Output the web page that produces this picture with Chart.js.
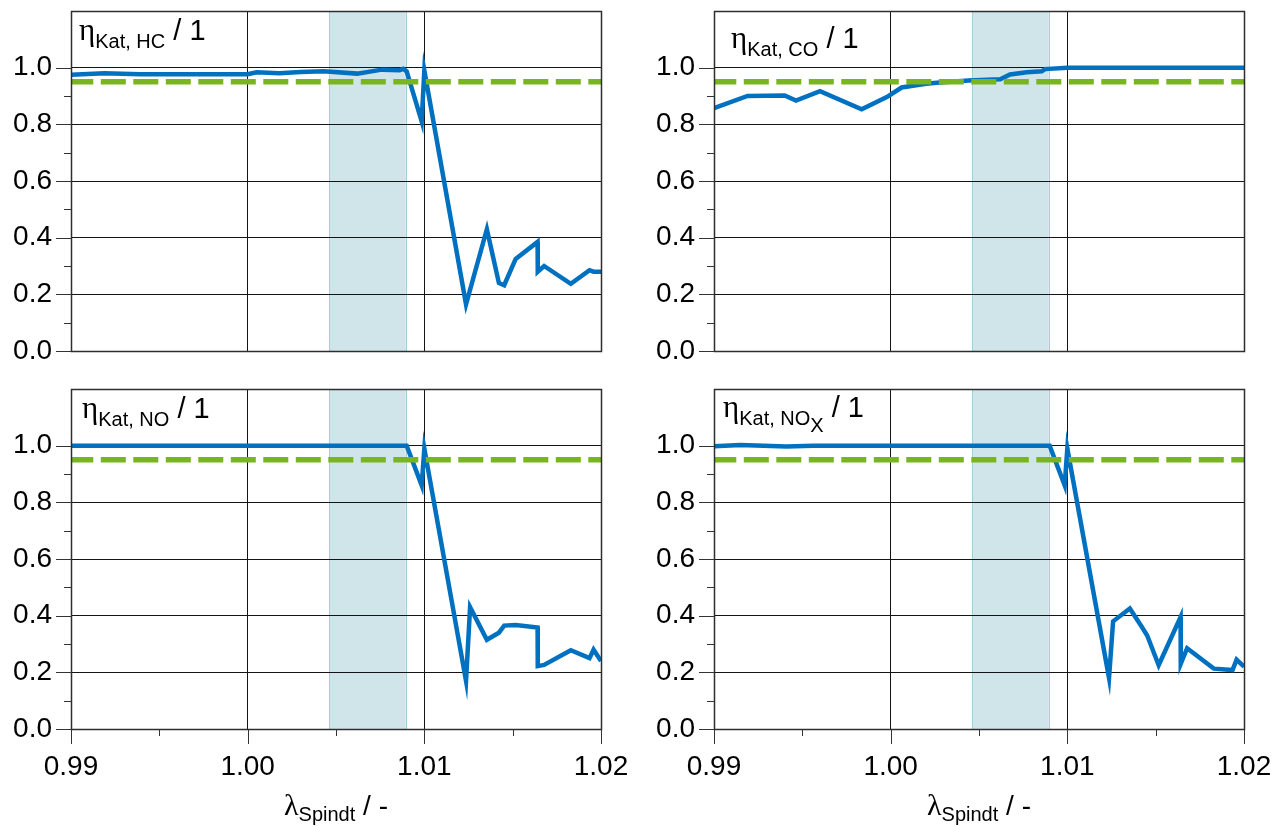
<!DOCTYPE html>
<html>
<head>
<meta charset="utf-8">
<title>Konvertierungsrate über λ</title>
<script src="https://cdn.jsdelivr.net/npm/chart.js@4.4.1/dist/chart.umd.min.js"></script>
<style>
  html, body { margin: 0; padding: 0; background: #fff; }
  #wrap { position: relative; width: 1282px; height: 826px; overflow: hidden; }
  .panel { position: absolute; }
  .panel canvas { display: block; }
</style>
</head>
<body>
<div id="wrap"></div>
<script>
// ---- measured conversion efficiencies over Spindt lambda ----
const lambdaHC = [0.99, 0.9919, 0.9939, 1.0000, 1.0005, 1.0018, 1.0030, 1.0043, 1.0062, 1.0076, 1.0086, 1.0088, 1.0090,
                  1.00985, 1.0100, 1.01236, 1.01354, 1.01422, 1.01452, 1.01517, 1.01641, 1.01642, 1.01678, 1.01829, 1.01935, 1.01958, 1.0200];
const etaHC    = [0.975, 0.980, 0.977, 0.977, 0.984, 0.980, 0.985, 0.987, 0.979, 0.993, 0.991, 0.996, 0.987,
                  0.81, 0.99, 0.165, 0.43, 0.24, 0.232, 0.325, 0.385, 0.28, 0.30, 0.237, 0.285, 0.28, 0.28];

const lambdaCO = [0.99, 0.9919, 0.9940, 0.99464, 0.9960, 0.99836, 0.99978, 1.00062, 1.0020, 1.0026, 1.0044, 1.0062,
                  1.00676, 1.0077, 1.00855, 1.00874, 1.0100, 1.0200];
const etaCO    = [0.857, 0.900, 0.902, 0.884, 0.917, 0.853, 0.896, 0.930, 0.943, 0.947, 0.955, 0.959,
                  0.976, 0.984, 0.987, 0.995, 1.0, 1.0];

const lambdaNO = [0.99, 1.0090, 1.00985, 1.0100, 1.01236, 1.01259, 1.01354, 1.01422, 1.01452, 1.01517, 1.01641, 1.01642,
                  1.01678, 1.01829, 1.01935, 1.01958, 1.0200];
const etaNO    = [1.0, 1.0, 0.86, 0.99, 0.17, 0.43, 0.315, 0.34, 0.365, 0.367, 0.358, 0.222,
                  0.226, 0.278, 0.25, 0.28, 0.24];

const lambdaNOx = [0.99, 0.9915, 0.9941, 0.9956, 1.0090, 1.00985, 1.0100, 1.01236, 1.01259, 1.01354, 1.01422, 1.01452,
                   1.01517, 1.01641, 1.01642, 1.01678, 1.01829, 1.01935, 1.01958, 1.0200];
const etaNOx    = [0.998, 1.002, 0.997, 1.0, 1.0, 0.86, 0.99, 0.18, 0.38, 0.425, 0.36, 0.33,
                   0.225, 0.395, 0.23, 0.285, 0.213, 0.208, 0.245, 0.22];

// target efficiency and lambda window
const limitEta = 0.95;
const bandLambda = [1.00462, 1.00895];

// axis ticks
const xTicks = [0.99, 1.00, 1.01, 1.02];
const xMinorTicks = [0.995, 1.005, 1.015];
const yTicks = [0.0, 0.2, 0.4, 0.6, 0.8, 1.0];
const yMinorTicks = [0.1, 0.3, 0.5, 0.7, 0.9];

// ---- styling ----
const SANS = '"Liberation Sans", Arial, Helvetica, sans-serif';
const SERIF = '"Liberation Serif", "Times New Roman", serif';
const BLUE = '#0071c1';
const GREEN = '#79b51f';
const GRID = '#141414';
const FRAME = '#2e2e2e';

function drawRich(ctx, segs, x, y, align) {
  let total = 0;
  segs.forEach(s => { ctx.font = s.font; s.w = ctx.measureText(s.text).width; total += s.w; });
  let cx = align === 'center' ? x - total / 2 : x;
  ctx.textAlign = 'left';
  ctx.textBaseline = 'alphabetic';
  segs.forEach(s => { ctx.font = s.font; ctx.fillText(s.text, cx, y + (s.dy || 0)); cx += s.w; });
}

const decor = {
  id: 'decor',
  beforeDraw(chart) {
    const { ctx, chartArea: a, scales: { x } } = chart;
    const x0 = x.getPixelForValue(bandLambda[0]);
    const x1 = x.getPixelForValue(bandLambda[1]);
    ctx.save();
    ctx.fillStyle = 'rgb(207,229,234)';
    ctx.fillRect(x0, a.top, x1 - x0, a.bottom - a.top);
    ctx.strokeStyle = 'rgb(166,206,214)';
    ctx.lineWidth = 1;
    ctx.beginPath();
    ctx.moveTo(Math.round(x0) + 0.5, a.top); ctx.lineTo(Math.round(x0) + 0.5, a.bottom);
    ctx.moveTo(Math.round(x1) + 0.5, a.top); ctx.lineTo(Math.round(x1) + 0.5, a.bottom);
    ctx.stroke();
    ctx.restore();
  },
  beforeDatasetsDraw(chart) {
    // sharp spikes like the measured trace
    chart.ctx.miterLimit = 40;
  },
  afterDraw(chart, args, opts) {
    const { ctx, chartArea: a, scales: { x, y } } = chart;
    ctx.save();
    // frame
    ctx.strokeStyle = FRAME;
    ctx.lineWidth = 1.5;
    ctx.strokeRect(Math.round(a.left) + 0.5, Math.round(a.top) + 0.5,
                   Math.round(a.right - a.left), Math.round(a.bottom - a.top));
    // tick marks
    ctx.strokeStyle = '#333';
    ctx.lineWidth = 1;
    ctx.beginPath();
    yTicks.forEach(v => {
      const py = Math.round(y.getPixelForValue(v)) + 0.5;
      ctx.moveTo(a.left - 15, py); ctx.lineTo(a.left, py);
    });
    yMinorTicks.forEach(v => {
      const py = Math.round(y.getPixelForValue(v)) + 0.5;
      ctx.moveTo(a.left - 7, py); ctx.lineTo(a.left, py);
    });
    if (opts.xLabels) {
      xTicks.forEach(v => {
        const px = Math.round(x.getPixelForValue(v)) + 0.5;
        ctx.moveTo(px, a.bottom); ctx.lineTo(px, a.bottom + 15);
      });
      xMinorTicks.forEach(v => {
        const px = Math.round(x.getPixelForValue(v)) + 0.5;
        ctx.moveTo(px, a.bottom); ctx.lineTo(px, a.bottom + 7);
      });
    }
    ctx.stroke();

    // panel label
    ctx.fillStyle = '#000';
    const segs = [
      { text: 'η', font: '31px ' + SERIF },
      { text: 'Kat, ' + opts.species, font: '20px ' + SANS, dy: 8 }
    ];
    if (opts.speciesSub) segs.push({ text: opts.speciesSub, font: '20px ' + SANS, dy: 15 });
    segs.push({ text: ' / 1', font: '29px ' + SANS });
    drawRich(ctx, segs, a.left + opts.lblDx, a.top + opts.lblDy, 'left');

    // axis title
    if (opts.xLabels) {
      drawRich(ctx, [
        { text: 'λ', font: '30px ' + SERIF },
        { text: 'Spindt', font: '20px ' + SANS, dy: 6 },
        { text: ' / -', font: '28px ' + SANS }
      ], (a.left + a.right) / 2, a.bottom + 86, 'center');
    }
    ctx.restore();
  }
};

const panelDefs = [
  { species: 'HC', lam: lambdaHC, eta: etaHC, box: { left: 0, top: 0, w: 640, h: 380 },
    area: { left: 71, top: 11, right: 601, bottom: 351 }, xLabels: false, lblDx: 8, lblDy: 29 },
  { species: 'CO', lam: lambdaCO, eta: etaCO, box: { left: 640, top: 0, w: 642, h: 380 },
    area: { left: 74, top: 11, right: 604, bottom: 351 }, xLabels: false, lblDx: 17, lblDy: 37 },
  { species: 'NO', lam: lambdaNO, eta: etaNO, box: { left: 0, top: 380, w: 640, h: 446 },
    area: { left: 71, top: 9, right: 601, bottom: 349 }, xLabels: true, lblDx: 11, lblDy: 29 },
  { species: 'NO', speciesSub: 'X', lam: lambdaNOx, eta: etaNOx, box: { left: 640, top: 380, w: 642, h: 446 },
    area: { left: 74, top: 9, right: 604, bottom: 349 }, xLabels: true, lblDx: 9, lblDy: 28 }
];

const wrap = document.getElementById('wrap');

panelDefs.forEach(p => {
  const div = document.createElement('div');
  div.className = 'panel';
  div.style.left = p.box.left + 'px';
  div.style.top = p.box.top + 'px';
  div.style.width = p.box.w + 'px';
  div.style.height = p.box.h + 'px';
  const cv = document.createElement('canvas');
  cv.width = p.box.w;
  cv.height = p.box.h;
  cv.style.width = p.box.w + 'px';
  cv.style.height = p.box.h + 'px';
  div.appendChild(cv);
  wrap.appendChild(div);

  const xAxisHeight = p.box.h - p.area.bottom;

  new Chart(cv, {
    type: 'scatter',
    data: {
      datasets: [
        {
          label: 'Zielwert',
          data: [{ x: 0.99, y: limitEta }, { x: 1.02, y: limitEta }],
          showLine: true,
          borderColor: GREEN,
          borderWidth: 5.5,
          borderDash: [25, 7.5],
          borderDashOffset: 2.7,
          pointRadius: 0,
          fill: false
        },
        {
          label: 'η Kat, ' + p.species + (p.speciesSub || ''),
          data: p.lam.map((l, i) => ({ x: l, y: p.eta[i] })),
          showLine: true,
          borderColor: BLUE,
          borderWidth: 4.5,
          borderJoinStyle: 'miter',
          tension: 0,
          pointRadius: 0,
          fill: false
        }
      ]
    },
    options: {
      responsive: false,
      animation: false,
      devicePixelRatio: 1,
      events: [],
      layout: {
        autoPadding: false,
        padding: { left: 0, top: p.area.top, right: p.box.w - p.area.right, bottom: 0 }
      },
      plugins: {
        legend: { display: false },
        tooltip: { enabled: false },
        decor: { species: p.species, speciesSub: p.speciesSub, xLabels: p.xLabels, lblDx: p.lblDx, lblDy: p.lblDy }
      },
      scales: {
        x: {
          type: 'linear',
          min: 0.99,
          max: 1.02,
          afterBuildTicks: s => { s.ticks = xTicks.map(v => ({ value: v })); },
          afterFit: s => { s.height = xAxisHeight; s.paddingLeft = 0; s.paddingRight = 0; },
          ticks: {
            display: p.xLabels,
            autoSkip: false,
            maxRotation: 0,
            minRotation: 0,
            padding: 21,
            color: '#000',
            font: { family: SANS, size: 28 },
            callback: v => Number(v).toFixed(2)
          },
          grid: { color: GRID, lineWidth: 1, drawTicks: false },
          border: { display: false }
        },
        y: {
          type: 'linear',
          min: 0,
          max: 1.2,
          afterBuildTicks: s => { s.ticks = yTicks.map(v => ({ value: v })); },
          afterFit: s => { s.width = p.area.left; s.paddingTop = 0; s.paddingBottom = 0; },
          ticks: {
            autoSkip: false,
            padding: 19,
            color: '#000',
            font: { family: SANS, size: 28 },
            callback: v => Number(v).toFixed(1)
          },
          grid: { color: GRID, lineWidth: 1, drawTicks: false },
          border: { display: false }
        }
      }
    },
    plugins: [decor]
  });
});
</script>
</body>
</html>
